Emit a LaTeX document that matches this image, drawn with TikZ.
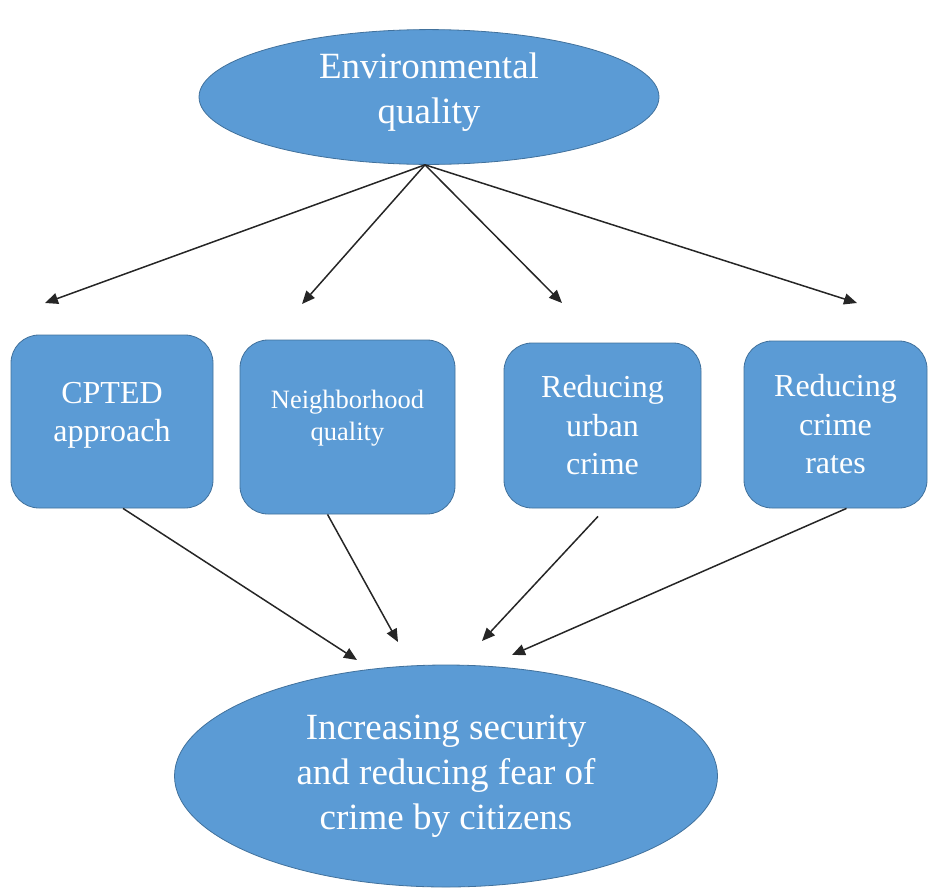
\documentclass[tikz,border=0pt]{standalone}
\usepackage{fontspec}
\setmainfont{Liberation Serif}
\usetikzlibrary{shapes.geometric,arrows.meta}
\definecolor{boxblue}{RGB}{91,155,213}
\definecolor{edgeblue}{RGB}{65,113,156}
\begin{document}
\begin{tikzpicture}[x=1pt,y=-1pt,
  oval/.style={ellipse,fill=boxblue,draw=edgeblue,line width=0.8pt,text=white,align=center,font=\fontsize{37}{45}\selectfont},
  card/.style={rectangle,rounded corners=28pt,fill=boxblue,draw=edgeblue,line width=0.8pt,text=white,align=center,font=\fontsize{32}{38.5}\selectfont},
  link/.style={-{Triangle[length=13pt,width=11pt]},line width=1.5pt,black!85}]
  \useasboundingbox (0,0) rectangle (928,889);
  % cause and outcome
  \node[oval,minimum width=460pt,minimum height=134pt,text depth=18pt] (env) at (429,97) {Environmental\\quality};
  \node[oval,minimum width=543pt,minimum height=222pt] (sec) at (446,776) {Increasing security\\and reducing fear of\\crime by citizens};
  % the four factors
  \node[card,minimum width=202pt,minimum height=173pt,text depth=19pt] (cpted) at (112,421.5) {CPTED\\approach};
  \node[card,minimum width=215pt,minimum height=174pt,text depth=24pt,font=\fontsize{26.5}{32}\selectfont] (hood) at (347.5,427) {Neighborhood\\quality};
  \node[card,minimum width=197pt,minimum height=165pt] (urban) at (602.5,425.5) {Reducing\\urban\\crime};
  \node[card,minimum width=183pt,minimum height=167pt] (rates) at (835.5,424.5) {Reducing\\crime\\rates};
  % arrow ends
  \coordinate (t1) at (45,303);
  \coordinate (t2) at (302,304);
  \coordinate (t3) at (562,303);
  \coordinate (t4) at (857,303);
  \coordinate (e1) at (357,660);
  \coordinate (e2) at (398,642);
  \coordinate (e3) at (482,641);
  \coordinate (e4) at (512,655);
  \draw[link] ([xshift=-4pt]env.south) -- (t1);
  \draw[link] ([xshift=-4pt]env.south) -- (t2);
  \draw[link] ([xshift=-4pt]env.south) -- (t3);
  \draw[link] ([xshift=-4pt]env.south) -- (t4);
  \draw[link] ([xshift=11pt]cpted.south) -- (e1);
  \draw[link] ([xshift=-20pt]hood.south) -- (e2);
  \draw[link] ([xshift=-4.5pt,yshift=-8pt]urban.south) -- (e3);
  \draw[link] ([xshift=11pt]rates.south) -- (e4);
\end{tikzpicture}
\end{document}
